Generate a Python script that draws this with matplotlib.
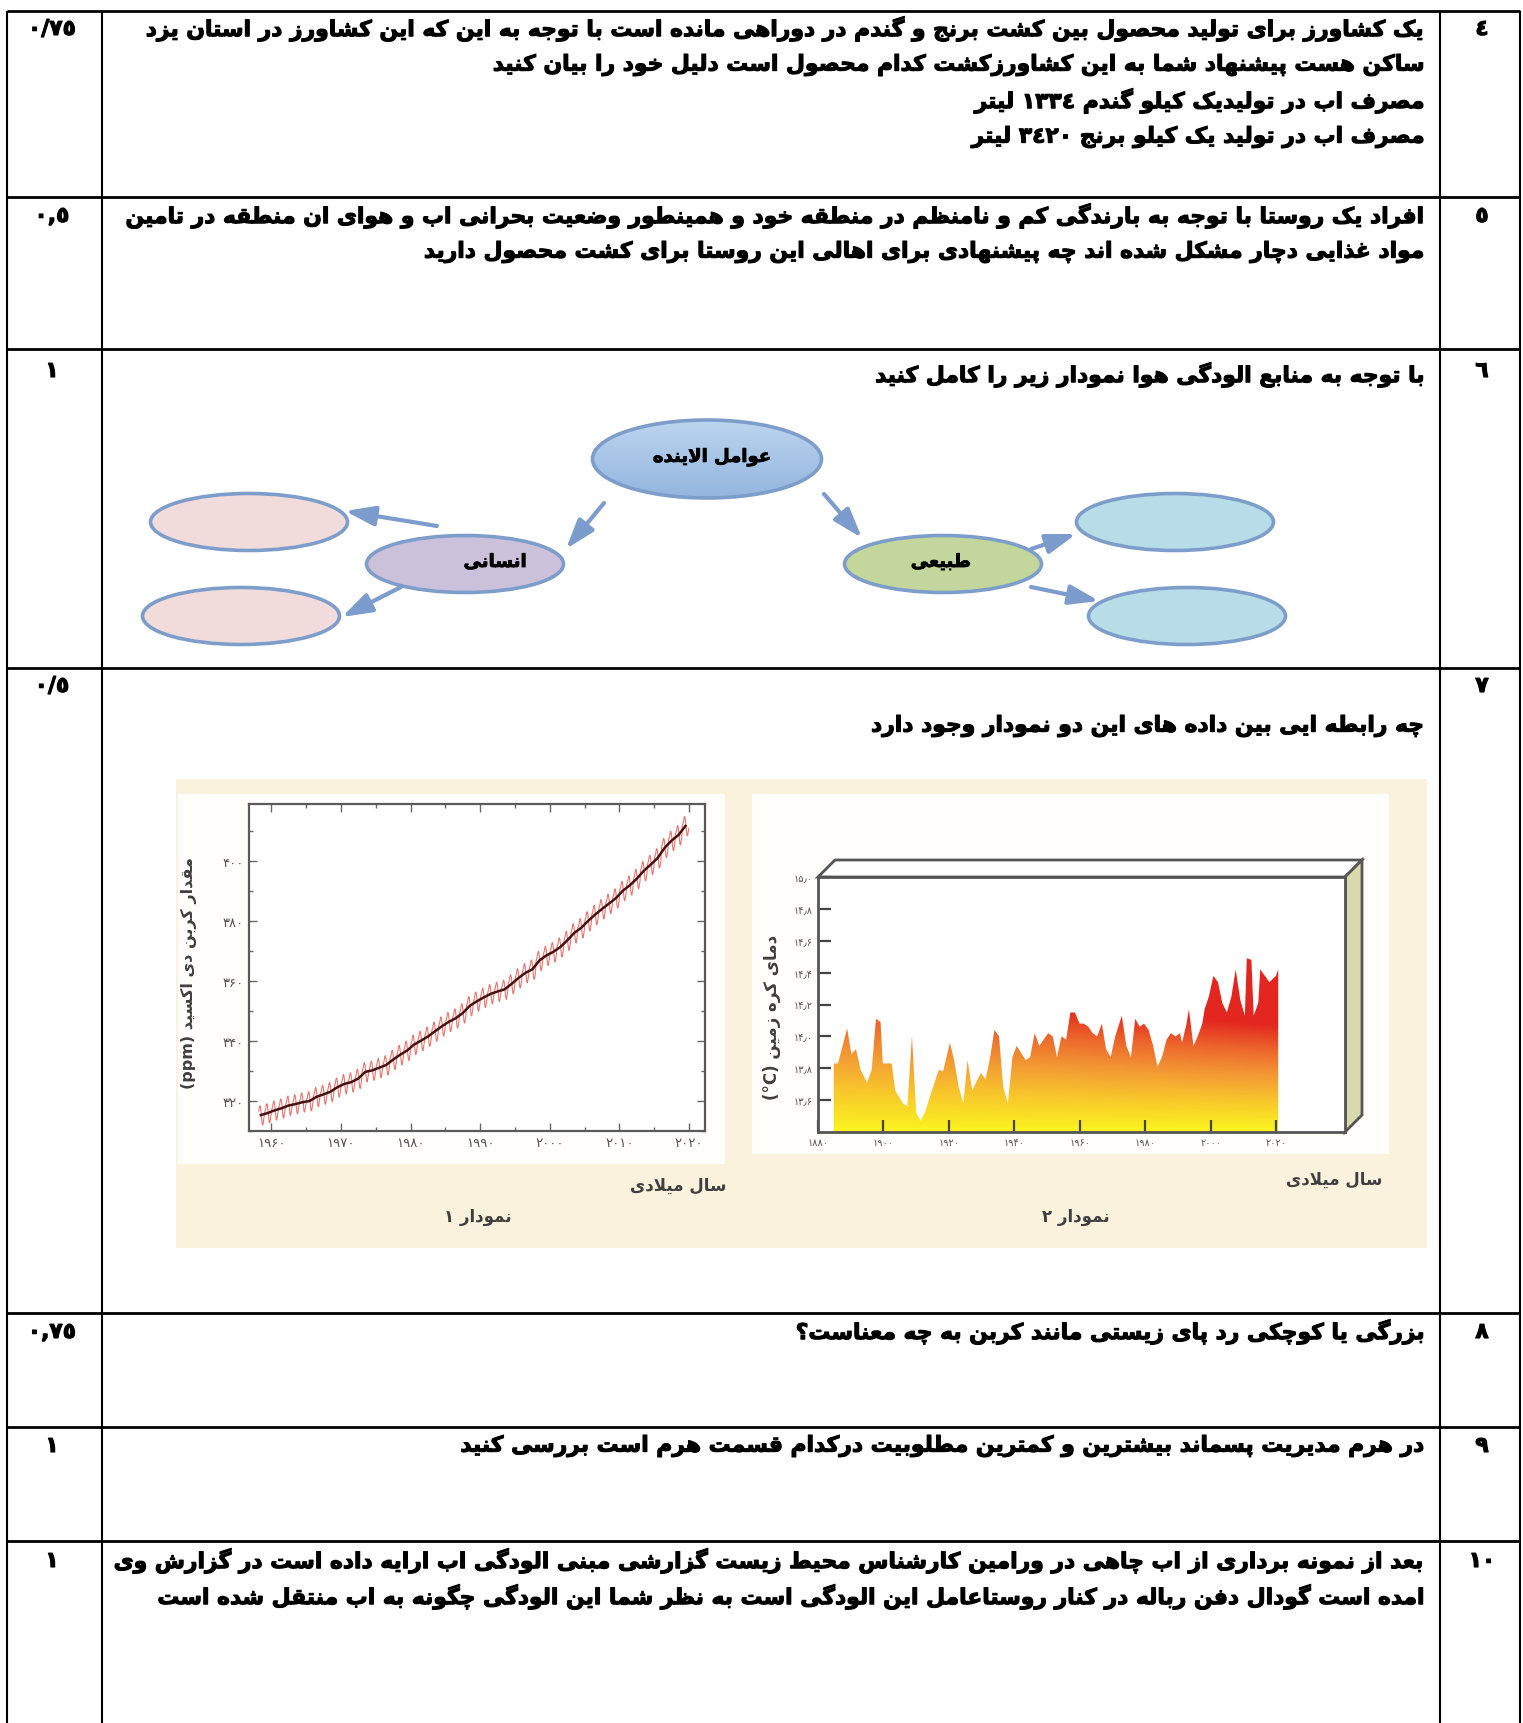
import numpy as np
import matplotlib
matplotlib.use("Agg")
import matplotlib.pyplot as plt
import matplotlib.patheffects as pe
from matplotlib.patches import Ellipse, Polygon, FancyArrowPatch, Rectangle
from matplotlib.colors import LinearSegmentedColormap, to_rgb
from matplotlib.ticker import MultipleLocator

W, H = 1523, 1724

# ---------------- data ----------------
row_numbers = ["٤", "٥", "٦", "٧", "٨", "٩", "١٠"]
row_scores = ["٠/٧٥", "٠,٥", "١", "٠/٥", "٠,٧٥", "١", "١"]
row_texts = [
    ["یک کشاورز برای تولید محصول بین کشت برنج و گندم در دوراهی مانده است با توجه به این که این کشاورز در استان یزد",
     "ساکن هست پیشنهاد شما به این کشاورزکشت کدام محصول است دلیل خود را بیان کنید",
     "مصرف اب در تولیدیک کیلو گندم ١٣٣٤ لیتر",
     "مصرف اب در تولید یک کیلو برنج ٣٤٢٠ لیتر"],
    ["افراد یک روستا با توجه به بارندگی کم و نامنظم در منطقه خود و همینطور وضعیت بحرانی اب و هوای ان منطقه در تامین",
     "مواد غذایی دچار مشکل شده اند چه پیشنهادی برای اهالی این روستا برای کشت محصول دارید"],
    ["با توجه به منابع الودگی هوا نمودار زیر را کامل کنید"],
    ["چه رابطه ایی بین داده های این دو نمودار وجود دارد"],
    ["بزرگی یا کوچکی رد پای زیستی مانند کربن به چه معناست؟"],
    ["در هرم مدیریت پسماند بیشترین و کمترین مطلوبیت درکدام قسمت هرم است بررسی کنید"],
    ["بعد از نمونه برداری از اب چاهی در ورامین کارشناس محیط زیست گزارشی مبنی الودگی اب ارایه داده است در گزارش وی",
     "امده است گودال دفن رباله در کنار روستاعامل این الودگی است به نظر شما این الودگی چگونه به اب منتقل شده است"],
]

diagram_labels = ["عوامل الاینده", "انسانی", "طبیعی"]

co2_years = list(range(1958, 2020))
co2_annual = [315.3, 316.0, 316.9, 317.6, 318.5, 319.0, 319.6, 320.0, 321.4, 322.2,
              323.1, 324.6, 325.7, 326.3, 327.5, 329.7, 330.2, 331.1, 332.0, 333.8,
              335.4, 336.8, 338.8, 340.1, 341.5, 343.2, 344.9, 346.4, 347.6, 349.3,
              351.7, 353.2, 354.5, 355.7, 356.5, 357.2, 359.0, 361.0, 362.7, 363.9,
              366.8, 368.5, 369.7, 371.3, 373.5, 376.0, 377.7, 380.0, 382.1, 384.0,
              385.8, 387.6, 390.1, 391.9, 394.1, 396.7, 398.8, 401.0, 404.4, 406.8,
              408.7, 411.7]
co2_season = [0.0, 0.7, 1.4, 2.6, 3.1, 2.4, 0.8, -1.4, -3.1, -3.3, -2.0, -0.9]
co2_xticks = [1960, 1970, 1980, 1990, 2000, 2010, 2020]
co2_xlabels = ["۱۹۶۰", "۱۹۷۰", "۱۹۸۰", "۱۹۹۰", "۲۰۰۰", "۲۰۱۰", "۲۰۲۰"]
co2_yticks = [320, 340, 360, 380, 400]
co2_ylabels = ["۳۲۰", "۳۴۰", "۳۶۰", "۳۸۰", "۴۰۰"]

temp_years = [1884.8, 1886.1, 1888.9, 1890.2, 1891.6, 1893.0, 1895.0, 1896.4, 1897.7, 1899.1,
              1899.8, 1902.5, 1903.6, 1905.9, 1907.3, 1908.7, 1910.0, 1911.4, 1912.8, 1914.8,
              1916.9, 1918.2, 1920.3, 1921.6, 1923.0, 1924.4, 1925.7, 1927.1, 1928.5, 1929.8,
              1931.2, 1932.6, 1933.9, 1935.3, 1936.6, 1938.0, 1939.4, 1940.7, 1943.5, 1944.8,
              1946.2, 1947.6, 1950.3, 1951.7, 1953.0, 1954.4, 1955.8, 1957.1, 1958.5, 1959.9,
              1961.2, 1962.6, 1963.9, 1965.3, 1966.7, 1968.0, 1969.4, 1970.8, 1972.8, 1974.2,
              1975.6, 1976.9, 1978.3, 1979.6, 1981.0, 1982.4, 1983.7, 1985.1, 1986.5, 1987.8,
              1989.2, 1990.6, 1991.2, 1992.6, 1993.3, 1994.7, 1996.0, 1997.4, 1998.1, 1999.4,
              2000.8, 2002.2, 2003.5, 2004.9, 2006.3, 2007.6, 2009.0, 2010.4, 2011.0, 2012.4,
              2013.1, 2014.5, 2015.1, 2016.5, 2017.9, 2019.9, 2020.6]
temp_values = [13.83, 13.83, 14.05, 13.89, 13.92, 13.79, 13.71, 13.79, 14.11, 14.09,
               13.83, 13.83, 13.66, 13.58, 13.56, 14.00, 13.52, 13.47, 13.53, 13.66,
               13.79, 13.78, 13.96, 13.85, 13.68, 13.58, 13.85, 13.66, 13.72, 13.77,
               13.73, 13.87, 14.04, 14.00, 13.68, 13.58, 13.87, 13.94, 13.85, 13.87,
               14.02, 13.94, 14.02, 14.00, 13.87, 14.00, 13.98, 14.15, 14.15, 14.08,
               14.08, 14.06, 14.02, 14.00, 14.08, 13.92, 13.87, 14.00, 14.13, 13.94,
               13.87, 14.11, 14.06, 14.08, 14.04, 13.94, 13.81, 13.87, 13.98, 14.02,
               14.00, 14.02, 13.96, 14.08, 14.17, 13.94, 14.00, 14.08, 14.17, 14.25,
               14.38, 14.34, 14.21, 14.15, 14.25, 14.42, 14.23, 14.13, 14.49, 14.48,
               14.13, 14.21, 14.42, 14.38, 14.34, 14.38, 14.42]
temp_xticks = [1880, 1900, 1920, 1940, 1960, 1980, 2000, 2020]
temp_xlabels = ["۱۸۸۰", "۱۹۰۰", "۱۹۲۰", "۱۹۴۰", "۱۹۶۰", "۱۹۸۰", "۲۰۰۰", "۲۰۲۰"]
temp_yticks = [13.6, 13.8, 14.0, 14.2, 14.4, 14.6, 14.8, 15.0]
temp_ylabels = ["۱۳٫۶", "۱۳٫۸", "۱۴٫۰", "۱۴٫۲", "۱۴٫۴", "۱۴٫۶", "۱۴٫۸", "۱۵٫۰"]


# ---------------- minimal arabic shaping + rtl ordering ----------------
def _dual(s):
    return (s, s + 1, s + 2, s + 3)


def _right(s):
    return (s, s + 1)


FORMS = {
    "ا": _right(0xFE8D), "آ": _right(0xFE81), "أ": _right(0xFE83), "إ": _right(0xFE87),
    "ؤ": _right(0xFE85), "ئ": _dual(0xFE89),
    "ب": _dual(0xFE8F), "پ": _dual(0xFB56), "ت": _dual(0xFE95), "ث": _dual(0xFE99),
    "ج": _dual(0xFE9D), "چ": _dual(0xFB7A), "ح": _dual(0xFEA1), "خ": _dual(0xFEA5),
    "د": _right(0xFEA9), "ذ": _right(0xFEAB), "ر": _right(0xFEAD), "ز": _right(0xFEAF),
    "ژ": _right(0xFB8A), "س": _dual(0xFEB1), "ش": _dual(0xFEB5), "ص": _dual(0xFEB9),
    "ض": _dual(0xFEBD), "ط": _dual(0xFEC1), "ظ": _dual(0xFEC5), "ع": _dual(0xFEC9),
    "غ": _dual(0xFECD), "ف": _dual(0xFED1), "ق": _dual(0xFED5), "ک": _dual(0xFB8E),
    "ك": _dual(0xFED9), "گ": _dual(0xFB92), "ل": _dual(0xFEDD), "م": _dual(0xFEE1),
    "ن": _dual(0xFEE5), "ه": _dual(0xFEE9), "و": _right(0xFEED), "ی": _dual(0xFBFC),
    "ي": _dual(0xFEF1), "ة": _right(0xFE93),
}
LAM_ALEF = {"ا": (0xFEFB, 0xFEFC), "آ": (0xFEF5, 0xFEF6),
            "أ": (0xFEF7, 0xFEF8), "إ": (0xFEF9, 0xFEFA)}
LTR_CHARS = set("0123456789٠١٢٣٤٥٦٧٨٩۰۱۲۳۴۵۶۷۸۹()°/,.٫%")


def shape(s):
    out = []
    i = 0
    n = len(s)
    while i < n:
        c = s[i]
        if c not in FORMS:
            out.append(c)
            i += 1
            continue
        prev = s[i - 1] if i > 0 else ""
        joins_prev = prev in FORMS and len(FORMS[prev]) == 4
        if c == "ل" and i + 1 < n and s[i + 1] in LAM_ALEF:
            out.append(chr(LAM_ALEF[s[i + 1]][1 if joins_prev else 0]))
            i += 2
            continue
        nxt = s[i + 1] if i + 1 < n else ""
        joins_next = len(FORMS[c]) == 4 and nxt in FORMS
        if joins_prev and joins_next:
            k = 3
        elif joins_prev:
            k = 1
        elif joins_next:
            k = 2
        else:
            k = 0
        out.append(chr(FORMS[c][k]))
        i += 1
    return "".join(out)


def rtl(s):
    s = shape(s)
    runs = []
    for ch in s:
        t = ch in LTR_CHARS or (ch.isascii() and ch.isalnum())
        if runs and runs[-1][0] == t:
            runs[-1][1].append(ch)
        else:
            runs.append([t, [ch]])
    res = ""
    for t, chars in reversed(runs):
        res += "".join(chars) if t else "".join(reversed(chars))
    return res


# ---------------- figure ----------------
plt.rcParams["font.family"] = ["DejaVu Sans"]
fig = plt.figure(figsize=(W / 100, H / 100), dpi=100)
fig.patch.set_facecolor("white")
ax = fig.add_axes([0, 0, 1, 1])
ax.axis("off")


def fig_rect(l, t, r, b):
    return [l / W, 1 - b / H, (r - l) / W, (b - t) / H]


heavy = [pe.withStroke(linewidth=0.8, foreground="black")]

# table grid
for x in [7, 102, 1440, 1520]:
    ax.plot([x, x], [12, H], color="black", lw=1.5, solid_capstyle="butt")
for y in [12, 198, 350, 669, 1314, 1428, 1542]:
    ax.plot([7, 1520], [y, y], color="black", lw=2.0, solid_capstyle="butt")

# body text size fitted to the first line width
renderer = fig.canvas.get_renderer()
probe = ax.text(0, 0, rtl(row_texts[0][0]), fontsize=15, fontweight="bold")
body_fs = 15 * 1280 / probe.get_window_extent(renderer=renderer).width
probe.remove()

first_line_y = [30, 217, 376, 727, 1333, 1447, 1562]
side_y = [30, 217, 372, 687, 1333, 1447, 1562]
line_gap = 36
for k, lines in enumerate(row_texts):
    for j, line in enumerate(lines):
        ax.text(1425, first_line_y[k] + j * line_gap, rtl(line), fontsize=body_fs,
                fontweight="bold", ha="right", va="center", color="black",
                path_effects=heavy)
    ax.text(1482, side_y[k], rtl(row_numbers[k]), fontsize=body_fs, fontweight="bold",
            ha="center", va="center", path_effects=heavy)
    ax.text(52, side_y[k], rtl(row_scores[k]), fontsize=body_fs, fontweight="bold",
            ha="center", va="center", path_effects=heavy)

# ---------------- diagram ----------------
edge_c = "#7d9dca"
top_el = Ellipse((707, 460), 229, 78, facecolor="none", edgecolor=edge_c, lw=2.6, zorder=3)
ax.add_patch(top_el)
grad = np.linspace(0, 1, 64)[:, None, None]
c0, c1 = np.array(to_rgb("#bcd5f0")), np.array(to_rgb("#93b5de"))
img = np.repeat(c0 * (1 - grad) + c1 * grad, 2, axis=1)
im = ax.imshow(img, extent=(592, 822, 499, 421), origin="upper", aspect="auto", zorder=2)
im.set_clip_path(top_el)

ellipses = [((249, 523), "#f2dcdb"), ((465, 565), "#ccc1da"), ((241, 617), "#f2dcdb"),
            ((943, 565), "#c3d69b"), ((1175, 523), "#b7dee8"), ((1187, 617), "#b7dee8")]
for (cx, cy), fc in ellipses:
    ax.add_patch(Ellipse((cx, cy), 197, 57, facecolor=fc, edgecolor=edge_c, lw=2.6, zorder=3))

arrows = [((604, 504), (566, 550)), ((824, 495), (862, 539)), ((437, 527), (345, 512)),
          ((401, 588), (342, 618)), ((1031, 550), (1076, 535)), ((1031, 588), (1099, 602))]
for a, b in arrows:
    ax.add_patch(FancyArrowPatch(a, b, arrowstyle="-|>,head_length=0.9,head_width=0.3",
                                 mutation_scale=20, lw=3, color="#7b9ccc",
                                 shrinkA=0, shrinkB=0, zorder=4))

diag_fx = [pe.withStroke(linewidth=0.6, foreground="black")]
ax.text(712, 458, rtl(diagram_labels[0]), fontsize=13, fontweight="bold", ha="center",
        va="center", zorder=5, path_effects=diag_fx)
ax.text(495, 563, rtl(diagram_labels[1]), fontsize=13, fontweight="bold", ha="center",
        va="center", zorder=5, path_effects=diag_fx)
ax.text(941, 563, rtl(diagram_labels[2]), fontsize=13, fontweight="bold", ha="center",
        va="center", zorder=5, path_effects=diag_fx)

# ---------------- chart panels ----------------
ax.add_patch(Rectangle((176, 780), 1251, 469, facecolor="#fbf2de", edgecolor="none", zorder=1))
ax.add_patch(Rectangle((178, 795), 547, 370, facecolor="#fffefb", edgecolor="none", zorder=1))
ax.add_patch(Rectangle((752, 795), 637, 360, facecolor="#fffefb", edgecolor="none", zorder=1))

# 3d box around chart 2
box_c = "#555555"
ax.add_patch(Polygon([(818, 878), (835, 861), (1362, 861), (1345, 878)], closed=True,
                     facecolor="white", edgecolor=box_c, lw=2, zorder=2))
ax.add_patch(Polygon([(1345, 878), (1362, 861), (1362, 1116), (1345, 1133)], closed=True,
                     facecolor="#d9d9ae", edgecolor=box_c, lw=2, zorder=2))

lab_c = "#3f3f3f"
ax.text(189, 973, rtl("مقدار کربن دی اکسید (ppm)"), fontsize=11.5, fontweight="bold",
        rotation=90, ha="center", va="center", color=lab_c, zorder=3)
ax.text(678, 1186, rtl("سال میلادی"), fontsize=12, fontweight="bold", ha="center",
        va="center", color=lab_c, zorder=3)
ax.text(478, 1217, rtl("نمودار ۱"), fontsize=12, fontweight="bold", ha="center",
        va="center", color=lab_c, zorder=3)
ax.text(772, 1017, rtl("دمای کره زمین (°C)"), fontsize=12, fontweight="bold", rotation=90,
        ha="center", va="center", color=lab_c, zorder=3)
ax.text(1334, 1180, rtl("سال میلادی"), fontsize=12, fontweight="bold", ha="center",
        va="center", color=lab_c, zorder=3)
ax.text(1076, 1217, rtl("نمودار ۲"), fontsize=12, fontweight="bold", ha="center",
        va="center", color=lab_c, zorder=3)

ax.set_xlim(0, W)
ax.set_ylim(H, 0)

# ---------------- chart 1: co2 ----------------
ax1 = fig.add_axes(fig_rect(249, 805, 705, 1132))
mx, my = [], []
for yr, base in zip(co2_years, co2_annual):
    for m, off in enumerate(co2_season):
        if yr == co2_years[0] and m < 2:
            continue
        mx.append(yr + (m + 0.5) / 12)
        my.append(base + off)
ax1.plot(mx, my, color="#e0463f", lw=0.8, alpha=0.75)
ax1.plot([y + 0.5 for y in co2_years], co2_annual, color="#4a1010", lw=1.8)
ax1.set_xlim(1956.8, 2022.3)
ax1.set_ylim(310, 419)
ax1.set_xticks(co2_xticks)
ax1.set_xticklabels(co2_xlabels)
ax1.set_yticks(co2_yticks)
ax1.set_yticklabels(co2_ylabels)
ax1.xaxis.set_minor_locator(MultipleLocator(5))
ax1.yaxis.set_minor_locator(MultipleLocator(10))
ax1.tick_params(which="both", direction="in", top=True, right=True, color="#666666",
                labelsize=9.5, labelcolor="#555555", width=1)
ax1.tick_params(which="major", length=6)
ax1.tick_params(which="minor", length=3)
for s in ax1.spines.values():
    s.set_color("#5a5a5a")
    s.set_linewidth(1.6)

# ---------------- chart 2: temperature ----------------
ax2 = fig.add_axes(fig_rect(818, 878, 1345, 1133))
ax2.set_xlim(1880, 2041)
ax2.set_ylim(13.4, 15.0)
gx = np.linspace(1880, 2041, 320)
gy = np.linspace(13.4, 15.0, 220)
GX, GY = np.meshgrid(gx, gy)
tt = np.clip((GY - 13.42) / 0.95 * (1 + 0.45 * (GX - 1880) / 140), 0, 1)
fire = LinearSegmentedColormap.from_list(
    "fire", [(0, "#fbf020"), (0.25, "#f8c82b"), (0.5, "#f39a34"), (0.75, "#ec662c"), (1, "#e3261f")])
im2 = ax2.imshow(fire(tt), extent=(1880, 2041, 13.4, 15.0), origin="lower", aspect="auto")
verts = [(temp_years[0], 13.4)] + list(zip(temp_years, temp_values)) + [(temp_years[-1], 13.4)]
area = Polygon(verts, closed=True, facecolor="none", edgecolor="none")
ax2.add_patch(area)
im2.set_clip_path(area)
ax2.set_xticks(temp_xticks)
ax2.set_xticklabels(temp_xlabels)
ax2.set_yticks(temp_yticks)
ax2.set_yticklabels(temp_ylabels)
ax2.tick_params(direction="in", length=9, width=1.6, color="#444444", labelsize=7,
                labelcolor="#555555")
for s in ax2.spines.values():
    s.set_color(box_c)
    s.set_linewidth(2)

fig.savefig("out.png", dpi=100, facecolor="white")
